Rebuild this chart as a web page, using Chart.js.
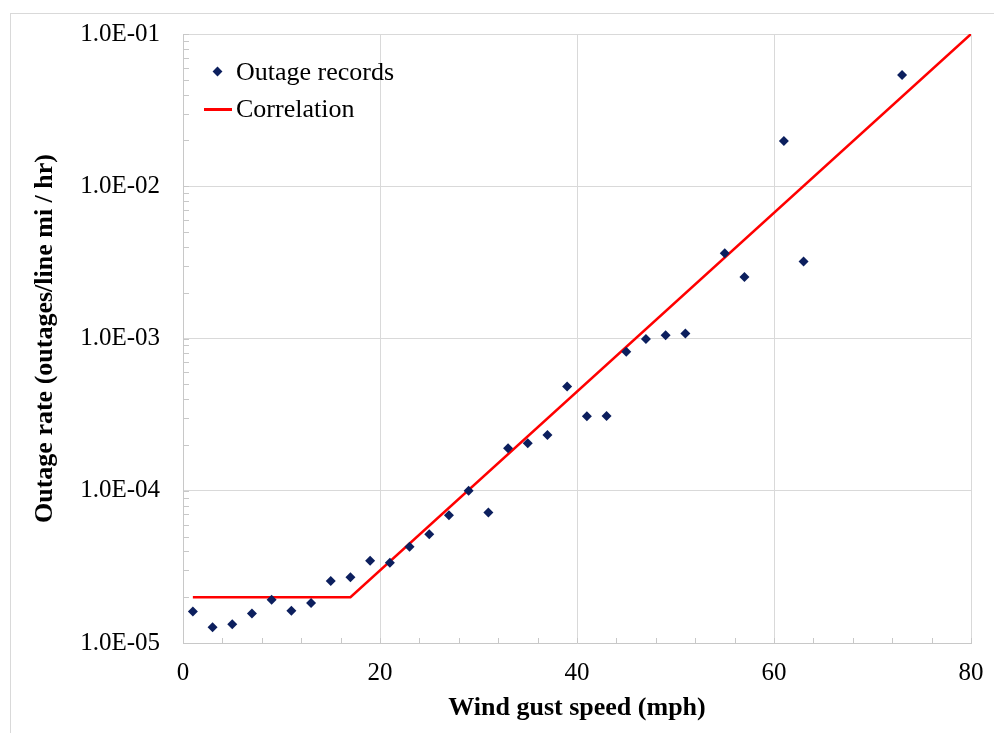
<!DOCTYPE html>
<html lang="en">
<head>
    <meta charset="UTF-8">
    <title>Outage rate vs wind gust speed</title>
    <script src="https://cdn.jsdelivr.net/npm/chart.js@4.4.1/dist/chart.umd.min.js"></script>
    <style>
        html, body { margin: 0; padding: 0; background: #fff; overflow: hidden; }
        #wrap { position: relative; width: 994px; height: 733px; overflow: hidden; }
        #frame { position: absolute; left: 10px; top: 13px; width: 1000px; height: 800px;
                 border: 1px solid #d9d9d9; box-sizing: border-box; pointer-events: none; }
        #legend { position: absolute; left: 204px; top: 53px; font-family: "Liberation Serif", serif;
                  font-size: 26px; color: #000; }
        #legend .row { display: flex; align-items: center; height: 37px; }
        #legend .sym { width: 28px; height: 28px; margin-right: 4px; position: relative; }
        #legend .dot { position: absolute; left: 10px; top: 10px; width: 7px; height: 7px; transform: rotate(45deg); }
        #legend .line { position: absolute; left: 0; top: 13px; width: 28px; height: 3px; }
    </style>
</head>
<body>
<div id="wrap">
    <canvas id="chart"></canvas>
    <div id="frame"></div>
    <div id="legend"></div>
</div>
<script>
    // wind gust speed (mph) and measured outage rate
    const gustSpeed = [1, 3, 5, 7, 9, 11, 13, 15, 17, 19, 21, 23, 25, 27, 29, 31,
                       33, 35, 37, 39, 41, 43, 45, 47, 49, 51, 55, 57, 61, 63, 73];
    const outageRate = [1.61e-5, 1.27e-5, 1.33e-5, 1.56e-5, 1.92e-5, 1.63e-5, 1.83e-5, 2.55e-5,
                        2.70e-5, 3.47e-5, 3.37e-5, 4.29e-5, 5.17e-5, 6.9e-5, 1.0e-4, 7.2e-5,
                        1.90e-4, 2.05e-4, 2.32e-4, 4.83e-4, 3.08e-4, 3.10e-4, 8.19e-4, 9.93e-4,
                        1.05e-3, 1.08e-3, 3.63e-3, 2.53e-3, 1.98e-2, 3.21e-3, 5.38e-2];

    // piecewise correlation
    const corrSpeed = [1, 17, 80];
    const corrRate = [2.0e-5, 2.0e-5, 1.0e-1];

    const yTickValues = [1e-5, 1e-4, 1e-3, 1e-2, 1e-1];
    const yTickLabels = ['1.0E-05', '1.0E-04', '1.0E-03', '1.0E-02', '1.0E-01'];
    const xTickLabels = [0, 20, 40, 60, 80];

    const GRID = '#d9d9d9';
    const AXIS = '#c8c8c8';
    const FONT = "'Liberation Serif', 'Times New Roman', serif";

    const isMajorY = v => yTickValues.some(t => Math.abs(t - v) / t < 1e-6);

    // short tick marks drawn on the inside of the axes
    const innerTicks = {
        id: 'innerTicks',
        afterDraw(chart) {
            const { ctx, chartArea, scales } = chart;
            ctx.save();
            ctx.strokeStyle = AXIS;
            ctx.lineWidth = 1;
            ctx.beginPath();
            scales.y.ticks.forEach(t => {
                const py = Math.round(scales.y.getPixelForValue(t.value)) + 0.5;
                ctx.moveTo(chartArea.left, py);
                ctx.lineTo(chartArea.left + 6, py);
            });
            scales.x.ticks.forEach(t => {
                const px = Math.round(scales.x.getPixelForValue(t.value)) + 0.5;
                ctx.moveTo(px, chartArea.bottom);
                ctx.lineTo(px, chartArea.bottom - 5);
            });
            ctx.stroke();
            ctx.restore();
        }
    };

    const chart = new Chart('chart', {
        type: 'scatter',
        data: {
            datasets: [{
                label: 'Outage records',
                data: gustSpeed.map((x, i) => ({ x: x, y: outageRate[i] })),
                pointStyle: 'rectRot',
                pointRadius: 5,
                pointHoverRadius: 5,
                backgroundColor: '#0c1f5e',
                borderColor: '#0c1f5e',
                borderWidth: 0
            }, {
                label: 'Correlation',
                data: corrSpeed.map((x, i) => ({ x: x, y: corrRate[i] })),
                showLine: true,
                pointRadius: 0,
                borderColor: '#ff0000',
                backgroundColor: '#ff0000',
                borderWidth: 2.5
            }]
        },
        options: {
            responsive: true,
            maintainAspectRatio: false,
            animation: false,
            layout: { padding: { top: 34, right: 23, left: 0, bottom: 0 } },
            plugins: { legend: { display: false }, tooltip: { enabled: false } },
            scales: {
                x: {
                    type: 'linear',
                    min: 0,
                    max: 80,
                    afterFit: s => { s.height = 90; },
                    ticks: {
                        stepSize: 4,
                        autoSkip: false,
                        maxRotation: 0,
                        padding: 0,
                        color: '#000',
                        font: { family: FONT, size: 25 },
                        callback: v => xTickLabels.includes(v) ? String(v) : ''
                    },
                    grid: {
                        tickLength: 15,
                        tickColor: 'transparent',
                        color: ctx => ctx.tick && xTickLabels.includes(ctx.tick.value) ? GRID : 'transparent'
                    },
                    border: { color: AXIS },
                    title: {
                        display: true,
                        text: 'Wind gust speed (mph)',
                        color: '#000',
                        font: { family: FONT, size: 26, weight: 'bold' },
                        padding: { top: 0, bottom: 9 }
                    }
                },
                y: {
                    type: 'logarithmic',
                    min: 1e-5,
                    max: 1e-1,
                    afterFit: s => { s.width = 183; },
                    afterBuildTicks: s => {
                        const ticks = [];
                        for (let e = -5; e < -1; e++) {
                            for (let m = 1; m < 10; m++) ticks.push({ value: m * Math.pow(10, e) });
                        }
                        ticks.push({ value: 1e-1 });
                        s.ticks = ticks;
                    },
                    ticks: {
                        autoSkip: false,
                        padding: 0,
                        color: '#000',
                        font: { family: FONT, size: 25 },
                        callback: v => {
                            const i = yTickValues.findIndex(t => Math.abs(t - v) / t < 1e-6);
                            return i >= 0 ? yTickLabels[i] : '';
                        }
                    },
                    grid: {
                        tickLength: 23,
                        tickColor: 'transparent',
                        color: ctx => ctx.tick && isMajorY(ctx.tick.value) ? GRID : 'transparent'
                    },
                    border: { color: AXIS },
                    title: {
                        display: true,
                        text: 'Outage rate (outages/line mi / hr)',
                        color: '#000',
                        font: { family: FONT, size: 26, weight: 'bold' },
                        padding: { top: 30, bottom: 0 }
                    }
                }
            }
        },
        plugins: [innerTicks]
    });

    // html legend built from the datasets
    const legendEl = document.getElementById('legend');
    chart.data.datasets.forEach(ds => {
        const row = document.createElement('div');
        row.className = 'row';
        const sym = document.createElement('span');
        sym.className = 'sym';
        const mark = document.createElement('span');
        mark.className = ds.showLine ? 'line' : 'dot';
        mark.style.background = ds.showLine ? ds.borderColor : ds.backgroundColor;
        sym.appendChild(mark);
        const txt = document.createElement('span');
        txt.textContent = ds.label;
        row.appendChild(sym);
        row.appendChild(txt);
        legendEl.appendChild(row);
    });
</script>
</body>
</html>
